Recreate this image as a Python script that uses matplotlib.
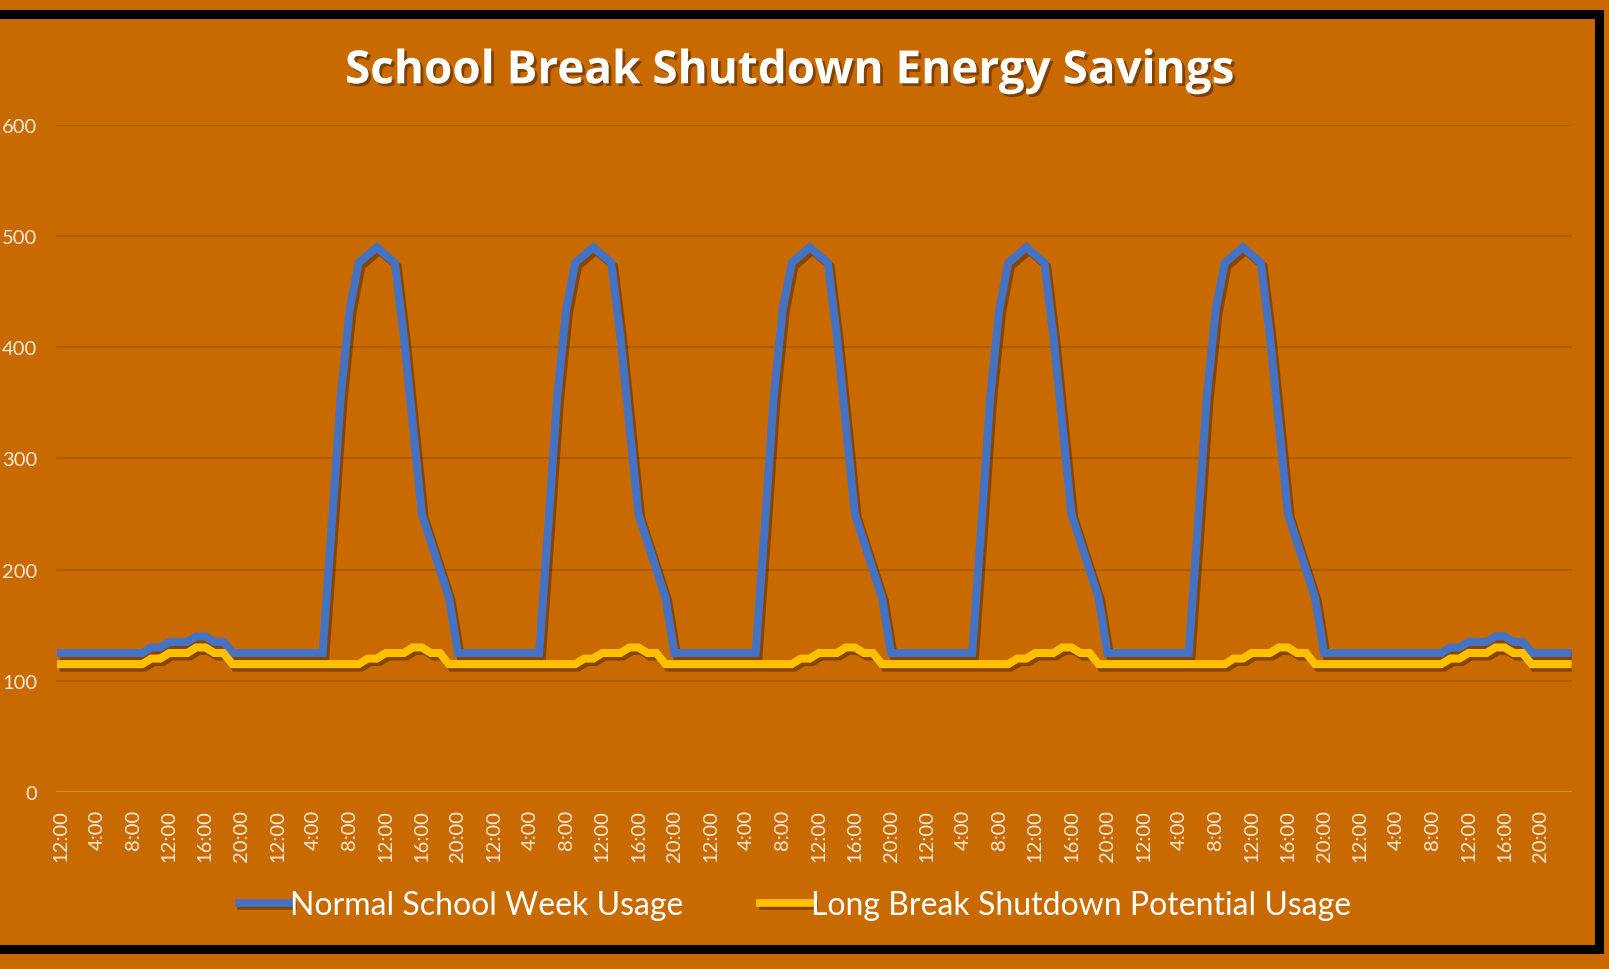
import matplotlib
matplotlib.use("Agg")
import matplotlib.pyplot as plt
import matplotlib.patheffects as pe
from matplotlib.patches import Rectangle

# hourly usage profiles (one list per day type, 24 hours)
weekend_normal = [125, 125, 125, 125, 125, 125, 125, 125, 125, 125, 130, 130,
                  135, 135, 135, 140, 140, 135, 135, 125, 125, 125, 125, 125]
weekday_normal = [125, 125, 125, 125, 125, 125, 238, 355, 434, 476, 483, 490,
                  483, 476, 410, 330, 250, 225, 200, 175, 125, 125, 125, 125]
shutdown_day = [115, 115, 115, 115, 115, 115, 115, 115, 115, 115, 120, 120,
                125, 125, 125, 130, 130, 125, 125, 115, 115, 115, 115, 115]

# one week: Sunday, five school days, Saturday
normal_week = weekend_normal + weekday_normal * 5 + weekend_normal
shutdown_week = shutdown_day * 7

day_hours = ["12:00", "4:00", "8:00", "12:00", "16:00", "20:00"]
tick_labels = day_hours * 7

bg = "#C86A00"
grid_col = "#AE5C00"
txt_col = "#F7E9D7"

fig = plt.figure(figsize=(16.09, 9.7), dpi=100, facecolor=bg)
ax = fig.add_axes([0.0351, 0.1825, 0.942, 0.6876])
ax.set_facecolor(bg)

x = list(range(len(normal_week)))
shadow = [pe.SimpleLineShadow(offset=(2, -2.5), shadow_color="#3a1a00", alpha=0.45),
          pe.Normal()]
ax.plot(x, normal_week, color="#4472C4", lw=5.8, solid_joinstyle="miter",
        label="Normal School Week Usage", path_effects=shadow, zorder=3)
ax.plot(x, shutdown_week, color="#FFC000", lw=5.8, solid_joinstyle="miter",
        label="Long Break Shutdown Potential Usage", path_effects=shadow, zorder=3)

ax.set_xlim(-0.5, len(x) - 0.5)
ax.set_ylim(0, 600)
ax.set_yticks(range(0, 601, 100))
ax.set_xticks(range(0, len(x), 4))
ax.set_xticklabels(tick_labels, rotation=90, va="top", ha="center")
for s in ax.spines.values():
    s.set_visible(False)
ax.tick_params(axis="both", length=0, colors=txt_col, labelsize=14.5)
ax.tick_params(axis="y", pad=14)
ax.tick_params(axis="x", pad=12)
for lab in ax.get_xticklabels() + ax.get_yticklabels():
    lab.set_family("Lato")
for yv in range(100, 601, 100):
    ax.axhline(yv, color=grid_col, lw=1.5, zorder=1)
ax.axhline(0, color="#D98A3A", lw=1.5, zorder=1)

fig.text(0.491, 0.926, "School Break Shutdown Energy Savings", ha="center", va="center",
         color="white", fontsize=33, fontweight="bold", family="Open Sans",
         path_effects=[pe.withSimplePatchShadow(offset=(2, -2), shadow_rgbFace="#3a1a00", alpha=0.5)])

leg = fig.legend(loc="center", bbox_to_anchor=(0.494, 0.066), ncol=2, frameon=False,
                 handlelength=1.6, handletextpad=0.0, columnspacing=2.4,
                 prop={"family": "Lato", "size": 23})
for t in leg.get_texts():
    t.set_color("white")
for h in leg.get_lines():
    h.set_linewidth(5.5)

# black frame around the chart area
fig.patches.append(Rectangle((-10 / 1609, (970 - 950) / 970), (1599 + 10) / 1609, (950 - 15) / 970,
                             transform=fig.transFigure, fill=False, edgecolor="black", lw=6.5))

fig.savefig("out.png", dpi=100, facecolor=bg)
